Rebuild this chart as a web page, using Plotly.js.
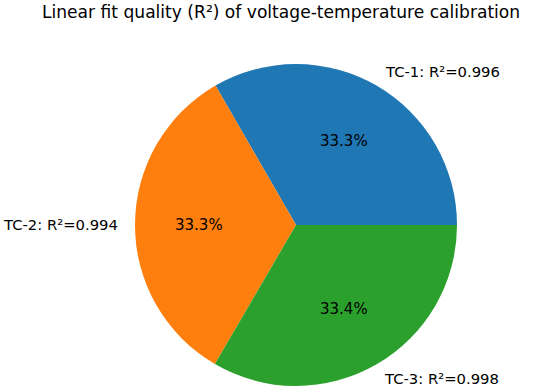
<!DOCTYPE html>
<html>
<head>
<meta charset="utf-8">
<script src="https://cdn.plot.ly/plotly-3.0.1.min.js"></script>
<style>html,body{margin:0;padding:0;background:#fff;}#chart{width:550px;height:389px;}</style>
</head>
<body>
<div id="chart"></div>
<script>
const labels = ["TC-1", "TC-2", "TC-3"];
const r2Values = [0.996, 0.994, 0.998];
const colors = ["#1f77b4", "#ff7f0e", "#2ca02c"];

const W = 550, H = 389;
const cx = 296, cy = 225, rad = 161;
const font = "DejaVu Sans, sans-serif";

const total = r2Values.reduce((a, b) => a + b, 0);
const annotations = [];
let start = 0;
r2Values.forEach((v, i) => {
  const frac = v / total;
  const mid = (start + frac / 2) * 2 * Math.PI;
  start += frac;
  const px = cx + 1.1 * rad * Math.cos(mid);
  const py = cy - 1.1 * rad * Math.sin(mid);
  const right = Math.cos(mid) >= 0;
  annotations.push({
    x: px / W, y: 1 - py / H, xref: "paper", yref: "paper",
    text: labels[i] + ": R²=" + v.toFixed(3),
    showarrow: false,
    xanchor: right ? "left" : "right",
    xshift: right ? -2 : 1,
    yanchor: "middle",
    font: {family: font, size: 14.8, color: "#000"}
  });
  const qx = cx + 0.6 * rad * Math.cos(mid);
  const qy = cy - 0.6 * rad * Math.sin(mid);
  annotations.push({
    x: qx / W, y: 1 - qy / H, xref: "paper", yref: "paper",
    text: (frac * 100).toFixed(1) + "%",
    showarrow: false,
    xanchor: "center", yanchor: "middle",
    font: {family: font, size: 15, color: "#000"}
  });
});

const trace = {
  type: "pie",
  values: r2Values,
  labels: labels,
  sort: false,
  direction: "counterclockwise",
  rotation: -30,
  marker: {colors: colors, line: {width: 0}},
  textinfo: "none",
  hoverinfo: "none",
  showlegend: false,
  domain: {x: [(cx - rad) / W, (cx + rad) / W], y: [(H - cy - rad) / H, (H - cy + rad) / H]}
};

const layout = {
  width: W, height: H,
  margin: {l: 0, r: 0, t: 0, b: 0},
  paper_bgcolor: "#fff",
  annotations: annotations.concat([{
    text: "Linear fit quality (R²) of voltage-temperature calibration",
    x: 281 / W, xanchor: "center", xref: "paper",
    y: 1 - 12 / H, yanchor: "middle", yref: "paper",
    showarrow: false,
    font: {family: font, size: 17.1, color: "#000"}
  }]),
  showlegend: false
};

Plotly.newPlot("chart", [trace], layout, {staticPlot: true});
</script>
</body>
</html>
